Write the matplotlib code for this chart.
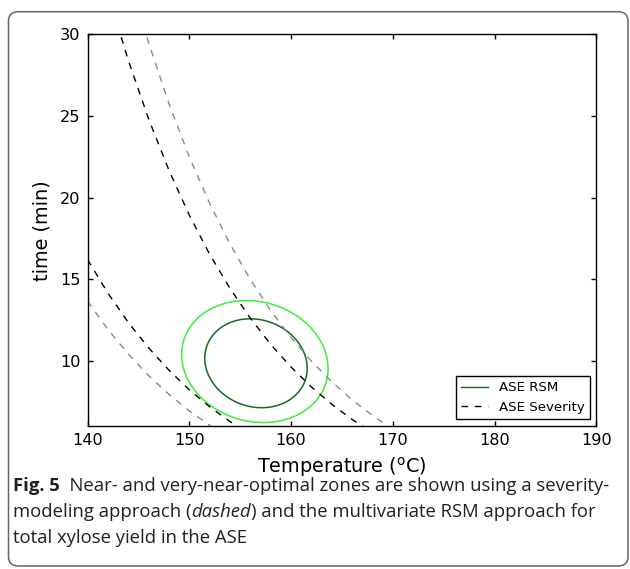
import numpy as np
import matplotlib
matplotlib.use('Agg')
import matplotlib.pyplot as plt
from matplotlib.patches import Ellipse, FancyBboxPatch
from matplotlib.lines import Line2D

temp = [140, 142, 144, 146, 148, 150, 152, 154, 156, 158, 160, 162, 164, 166, 168, 170, 172]
sev_hoog_zwart = [37.27, 32.54, 28.42, 24.82, 21.67, 18.92, 16.52, 14.43, 12.60, 11.00,
                  9.61, 8.39, 7.33, 6.40, 5.59, 4.88, 4.26]
sev_hoog_grijs = [44.30, 38.68, 33.78, 29.49, 25.75, 22.49, 19.64, 17.15, 14.97, 13.07,
                  11.42, 9.97, 8.70, 7.60, 6.64, 5.80, 5.06]
sev_laag_zwart = [16.20, 14.15, 12.35, 10.79, 9.42, 8.22, 7.18, 6.27, 5.48, 4.78,
                  4.18, 3.65, 3.19, 2.78, 2.43, 2.12, 1.85]
sev_laag_grijs = [13.65, 11.92, 10.41, 9.09, 7.94, 6.93, 6.05, 5.28, 4.61, 4.03,
                  3.52, 3.07, 2.68, 2.34, 2.05, 1.79, 1.56]

# RSM zones: midden (T, t), breedte, hoogte, hoek
rsm_centers = [(156.55, 9.845), (156.44, 9.95)]
rsm_widths = [10.09, 14.42]
rsm_heights = [5.40, 7.41]
rsm_angles = [-4.89, -4.67]
rsm_colors = ['#156a22', '#38f038']

x_ticks = [140, 150, 160, 170, 180, 190]
y_ticks = [10, 15, 20, 25, 30]

fig = plt.figure(figsize=(6.3, 5.69), dpi=100)
ax = fig.add_axes([0.1389, 0.2513, 0.8079, 0.6884])

dash = (4.8, 4.8)
ax.plot(temp, sev_hoog_zwart, color='black', lw=1, dashes=dash)
ax.plot(temp, sev_laag_zwart, color='black', lw=1, dashes=dash)
ax.plot(temp, sev_hoog_grijs, color='#8a8a8a', lw=1, dashes=dash)
ax.plot(temp, sev_laag_grijs, color='#8a8a8a', lw=1, dashes=dash)

for c, w, h, a, col in zip(rsm_centers, rsm_widths, rsm_heights, rsm_angles, rsm_colors):
    ax.add_patch(Ellipse(c, w, h, angle=a, fill=False, edgecolor=col, lw=1.1))

ax.set_xlim(140, 190)
ax.set_ylim(6, 30)
ax.set_xticks(x_ticks)
ax.set_yticks(y_ticks)
ax.tick_params(direction='in', top=True, right=True, length=3.5, width=1,
               labelsize=11.6, pad=5)
for s in ax.spines.values():
    s.set_linewidth(1)
ax.set_xlabel(r'Temperature ($^{\mathrm{o}}$C)', fontsize=13.9, labelpad=5)
ax.set_ylabel('time (min)', fontsize=13.9, labelpad=6)

handles = [Line2D([], [], color=rsm_colors[0], lw=1),
           Line2D([], [], color='black', lw=1, dashes=dash)]
leg = ax.legend(handles, ['ASE RSM', 'ASE Severity'], loc='lower right', fontsize=9.6,
                fancybox=False, framealpha=1, edgecolor='black', borderaxespad=0.5)
leg.get_frame().set_linewidth(1)

# kader rond figuur
fig.patches.append(FancyBboxPatch((8.5 / 630, 1 - 566 / 569), (628 - 8.5) / 630, (566 - 11.7) / 569,
                                  boxstyle='round,pad=0,rounding_size=0.016',
                                  transform=fig.transFigure, fill=False,
                                  edgecolor='#666666', lw=1.1, figure=fig))

# onderschrift
cap = dict(family='Open Sans', fontsize=13.3, color='#231f20')
t1 = fig.text(13 / 630, 1 - 491 / 569, 'Fig. 5', fontweight='bold', **cap)
ax.annotate('  Near- and very-near-optimal zones are shown using a severity-',
            xy=(1, 0), xycoords=t1, va='bottom', **cap)
t2 = fig.text(13 / 630, 1 - 517 / 569, 'modeling approach (', **cap)
t3 = ax.annotate('dashed', xy=(1, 0), xycoords=t2, va='bottom', style='italic', **cap)
ax.annotate(') and the multivariate RSM approach for', xy=(1, 0), xycoords=t3,
            va='bottom', **cap)
fig.text(13 / 630, 1 - 543 / 569, 'total xylose yield in the ASE', **cap)

fig.savefig('out.png', dpi=100)
